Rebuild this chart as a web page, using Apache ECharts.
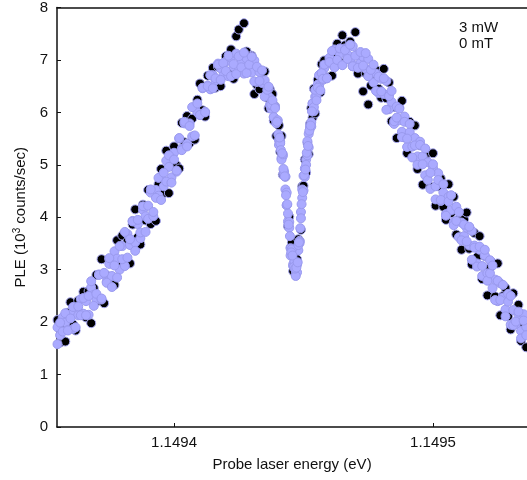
<!DOCTYPE html>
<html><head><meta charset="utf-8">
<script src="https://cdn.jsdelivr.net/npm/echarts@6/dist/echarts.min.js"></script>
<style>html,body{margin:0;padding:0;background:#fff}#c{width:527px;height:480px}</style>
</head><body><div id="c"></div>
<script>
// Probe laser energy (eV)
const energy = [
1.149355,1.149356,1.149357,1.149358,1.149359,1.149360,1.149361,1.149362,1.149363,1.149364,
1.149365,1.149366,1.149367,1.149368,1.149369,1.149370,1.149371,1.149372,1.149373,1.149374,
1.149375,1.149376,1.149377,1.149378,1.149379,1.149380,1.149381,1.149382,1.149383,1.149384,
1.149385,1.149386,1.149387,1.149388,1.149389,1.149390,1.149391,1.149392,1.149393,1.149394,
1.149395,1.149396,1.149397,1.149398,1.149399,1.149400,1.149401,1.149402,1.149403,1.149404,
1.149405,1.149406,1.149407,1.149408,1.149409,1.149410,1.149411,1.149412,1.149413,1.149414,
1.149415,1.149416,1.149417,1.149418,1.149419,1.149420,1.149421,1.149422,1.149423,1.149424,
1.149425,1.149426,1.149427,1.149428,1.149429,1.149430,1.149431,1.149432,1.149433,1.149434,
1.149435,
1.149436,1.1494365,1.149437,1.1494375,1.149438,1.1494385,1.149439,1.1494395,1.14944,1.1494405,
1.149441,1.1494415,1.149442,1.1494425,1.149443,1.1494435,1.149444,1.1494445,1.149445,1.1494455,
1.149446,1.1494465,1.149447,1.1494475,1.149448,1.1494485,1.149449,1.1494495,1.14945,1.1494505,
1.149451,1.1494515,1.149452,1.1494525,1.149453,1.1494535,1.149454,1.1494545,1.149455,1.1494555,
1.149456,1.1494565,1.149457,1.1494575,1.149458,
1.149459,1.149460,1.149461,1.149462,1.149463,1.149464,1.149465,1.149466,1.149467,1.149468,
1.149469,1.149470,1.149471,1.149472,1.149473,1.149474,1.149475,1.149476,1.149477,1.149478,
1.149479,1.149480,1.149481,1.149482,1.149483,1.149484,1.149485,1.149486,1.149487,1.149488,
1.149489,1.149490,1.149491,1.149492,1.149493,1.149494,1.149495,1.149496,1.149497,1.149498,
1.149499,1.149500,1.149501,1.149502,1.149503,1.149504,1.149505,1.149506,1.149507,1.149508,
1.149509,1.149510,1.149511,1.149512,1.149513,1.149514,1.149515,1.149516,1.149517,1.149518,
1.149519,1.149520,1.149521,1.149522,1.149523,1.149524,1.149525,1.149526,1.149527,1.149528,
1.149529,1.149530,1.149531,1.149532,1.149533,1.149534,1.149535,1.149536
];
// PLE (10^3 counts/sec), lavender scan A
const pleA = [
1.90,1.75,2.09,1.99,1.85,2.15,1.87,2.28,2.13,2.44,
2.16,2.40,2.14,2.66,2.52,2.43,2.91,2.43,2.90,2.77,
3.11,2.88,3.35,3.21,3.00,3.45,3.07,3.68,3.47,3.93,
3.52,3.87,3.60,4.14,4.02,3.97,4.47,4.02,4.52,4.41,
4.78,4.59,5.08,4.96,4.76,5.23,4.87,5.50,5.31,5.79,
5.40,5.79,5.54,6.10,6.00,5.95,6.46,6.01,6.51,6.44,
6.71,6.61,6.93,6.84,6.70,6.97,6.69,7.04,6.87,7.12,
6.81,6.98,6.74,7.03,6.88,6.76,6.99,6.58,6.77,6.56,
6.61,6.33,6.45,6.28,6.07,6.17,5.91,6.10,5.82,5.84,
5.47,5.44,5.13,5.17,4.85,4.53,4.47,3.92,3.80,3.41,
3.38,3.10,3.15,2.98,2.95,3.37,3.51,4.10,4.37,4.79,
4.77,5.10,5.18,5.59,5.70,5.81,6.17,6.02,6.30,6.31,
6.53,6.50,6.73,6.69,6.62,6.84,6.65,7.04,6.92,7.20,
6.92,7.12,6.91,7.22,7.10,7.00,7.26,6.89,7.11,6.94,
7.06,6.83,7.02,6.82,6.57,6.74,6.37,6.64,6.35,6.60,
6.06,6.20,5.78,6.11,5.85,5.63,5.92,5.34,5.62,5.35,
5.51,5.16,5.44,5.16,4.80,5.05,4.54,4.94,4.59,4.84,
4.31,4.47,4.06,4.39,4.13,3.90,4.20,3.62,3.90,3.64,
3.80,3.46,3.74,3.46,3.12,3.38,2.88,3.27,2.93,3.18,
2.65,2.81,2.40,2.74,2.47,2.24,2.54,1.95,2.23,1.96,
2.14,1.83,2.15,1.91
];
// lavender scan B
const pleB = [
1.58,1.99,1.82,2.17,1.84,2.07,2.29,1.90,2.30,2.13,
2.46,2.13,2.50,2.78,2.31,2.54,2.90,2.45,2.94,2.75,
3.22,2.67,3.08,2.85,3.45,3.20,3.72,3.23,3.58,3.92,
3.36,3.95,3.71,4.21,3.72,4.22,4.53,4.10,4.37,4.75,
4.33,4.85,4.68,5.18,4.66,5.10,4.89,5.51,5.28,5.82,
5.35,5.74,6.10,5.56,6.17,5.95,6.47,6.00,6.50,6.71,
6.46,6.65,6.91,6.62,6.94,6.79,7.08,6.69,6.92,6.73,
7.07,6.86,7.14,6.75,6.91,7.06,6.59,6.87,6.60,6.80,
6.30,6.43,6.49,6.14,6.15,6.23,5.91,6.08,5.79,5.85,
5.38,5.41,5.10,5.20,4.80,4.78,4.23,4.07,3.91,3.27,
3.39,3.07,3.16,2.88,3.10,3.47,3.54,3.98,4.53,4.51,
4.93,5.00,5.45,5.33,5.71,5.73,6.17,6.10,6.43,6.23,
6.47,6.71,6.42,6.75,6.64,6.91,6.65,6.96,7.17,6.86,
7.00,7.22,6.90,7.19,7.02,7.29,6.88,7.08,6.85,7.15,
6.89,7.13,6.69,6.81,6.91,6.41,6.68,6.40,6.65,6.05,
6.31,6.41,5.83,5.90,6.07,5.53,5.82,5.50,5.78,5.14,
5.37,5.00,5.38,5.01,5.31,4.71,4.85,5.01,4.34,4.71,
4.33,4.63,4.03,4.30,4.42,3.85,3.93,4.10,3.56,3.86,
3.54,3.82,3.19,3.42,3.06,3.44,3.07,3.38,2.79,2.93,
3.08,2.42,2.79,2.42,2.71,2.11,2.39,2.50,1.94,2.01,
2.20,1.69,2.03,1.75
];
// black scan
const pleBlack = [
2.04,1.61,1.95,1.63,2.18,2.38,1.96,1.84,2.41,2.17,
2.58,2.09,2.59,1.98,2.65,2.90,2.41,3.20,2.36,2.89,
3.20,2.80,2.71,3.56,3.17,3.65,3.09,3.54,3.12,3.86,
4.15,3.62,3.48,4.24,3.94,4.52,3.87,4.50,3.93,4.63,
4.92,4.46,5.27,4.46,5.01,5.35,4.99,4.93,5.80,5.43,
5.93,5.41,5.88,5.48,6.24,6.55,6.04,5.92,6.70,6.45,
6.85,6.47,6.87,6.50,6.92,7.07,6.74,7.20,6.64,7.45,
7.58,6.80,7.70,7.16,6.85,7.08,6.35,6.52,6.44,6.77,
6.78,6.28,6.08,6.44,6.12,6.35,5.84,6.12,5.55,5.78,
5.75,5.25,5.55,4.81,4.87,4.77,4.23,3.83,4.01,3.42,
3.52,2.97,3.07,2.92,3.20,3.58,3.55,3.76,4.59,4.60,
5.10,4.85,5.42,5.20,5.78,6.08,5.90,6.45,5.98,6.37,
6.62,6.43,6.38,6.92,6.69,6.99,6.67,6.95,6.70,7.15,
7.31,6.96,7.47,7.28,7.05,7.35,6.88,7.53,6.74,7.08,
6.40,6.75,6.15,6.51,6.73,6.81,6.45,6.28,6.83,6.27,
6.57,5.83,6.10,5.51,6.09,6.22,5.52,5.22,5.82,5.35,
5.75,4.92,5.37,4.62,5.13,5.23,4.58,5.22,4.22,4.59,
4.74,4.20,3.95,4.63,4.08,4.39,3.67,3.96,3.38,3.96,
4.09,3.40,3.10,3.70,3.24,3.64,2.82,3.26,2.51,3.03,
3.13,2.49,3.12,2.13,2.50,2.65,2.11,1.86,2.55,1.99,
2.33,1.64,1.97,1.52
];
// extra readings across the narrow dip
const dipEnergy = [
1.14943975,1.14944025,1.14944075,1.14944125,1.14944175,1.14944225,1.14944275,
1.14944325,1.14944375,1.14944425,1.14944475,1.14944525,1.14944575,1.14944625,
1.14944675,1.14944725,1.14944775,1.14944825,1.14944875,1.14944925,1.14944975,
1.14945025,1.14945075,1.14945125,1.14945175,1.14945225,1.14945275,1.14945325
];
const dipPle = [
5.82,5.58,5.52,5.28,5.22,4.92,4.78,
4.42,4.25,3.86,3.64,3.33,3.27,3.05,
3.02,3.04,3.14,3.52,3.79,4.25,4.48,
4.80,4.91,5.23,5.36,5.65,5.75,6.02
];
const xTickValues = [1.1494, 1.1495];
const xRange = [1.1493548, 1.1495363];
const yRange = [0, 8];
const annotation = ['3 mW', '0 mT'];

const FONT = '"Liberation Sans", Arial, Helvetica, sans-serif';
const INK = '#111';
const pairs = (xs, ys) => xs.map((e, i) => [e, ys[i]]);
const chart = echarts.init(document.getElementById('c'), null, {renderer: 'canvas'});
chart.setOption({
  animation: false,
  textStyle: {fontFamily: FONT},
  grid: {left: 57, right: 0, top: 5, bottom: 53},
  xAxis: [{
    type: 'value', position: 'bottom', min: xRange[0], max: xRange[1],
    axisLine: {show: true, onZero: false, lineStyle: {color: INK, width: 1.5}},
    axisTick: {show: true, inside: true, length: 4, customValues: xTickValues, lineStyle: {color: INK, width: 1}},
    axisLabel: {customValues: xTickValues, formatter: v => v.toFixed(4), fontSize: 15, color: INK, fontFamily: FONT, margin: 8},
    splitLine: {show: false},
    name: 'Probe laser energy (eV)', nameLocation: 'middle', nameGap: 30,
    nameTextStyle: {fontSize: 15, color: INK, fontFamily: FONT}
  }, {
    type: 'value', position: 'top', min: xRange[0], max: xRange[1],
    axisLine: {show: true, onZero: false, lineStyle: {color: INK, width: 1.5}},
    axisTick: {show: false}, axisLabel: {show: false}, splitLine: {show: false}
  }],
  yAxis: {
    type: 'value', min: yRange[0], max: yRange[1], interval: 1,
    axisLine: {show: true, onZero: false, lineStyle: {color: INK, width: 1.5}},
    axisTick: {show: true, inside: true, length: 4, lineStyle: {color: INK, width: 1}},
    axisLabel: {fontSize: 15, color: INK, fontFamily: FONT, margin: 9},
    splitLine: {show: false},
    name: 'PLE (10{sup|3} counts/sec)', nameLocation: 'middle', nameGap: 28, nameRotate: 90,
    nameTextStyle: {fontSize: 15, color: INK, fontFamily: FONT,
      rich: {sup: {fontSize: 10, color: INK, fontFamily: FONT, padding: [0, 0, 7, 0]}}}
  },
  graphic: [{
    type: 'text', left: 459, top: 20,
    style: {text: annotation.join('\n'), fontSize: 15, fontFamily: FONT, fill: INK, lineHeight: 16}
  }],
  series: [{
    type: 'scatter', name: 'black', data: pairs(energy, pleBlack), symbol: 'circle', symbolSize: 9,
    itemStyle: {color: '#000', borderColor: '#a6a6f2', borderWidth: 1, opacity: 1}
  }, {
    type: 'scatter', name: 'lavender',
    data: pairs(energy, pleA).concat(pairs(energy, pleB), pairs(dipEnergy, dipPle)),
    symbol: 'circle', symbolSize: 9,
    itemStyle: {color: '#aaaaff', borderColor: '#9a9aee', borderWidth: 1, opacity: 1}
  }]
});
</script>
</body></html>
